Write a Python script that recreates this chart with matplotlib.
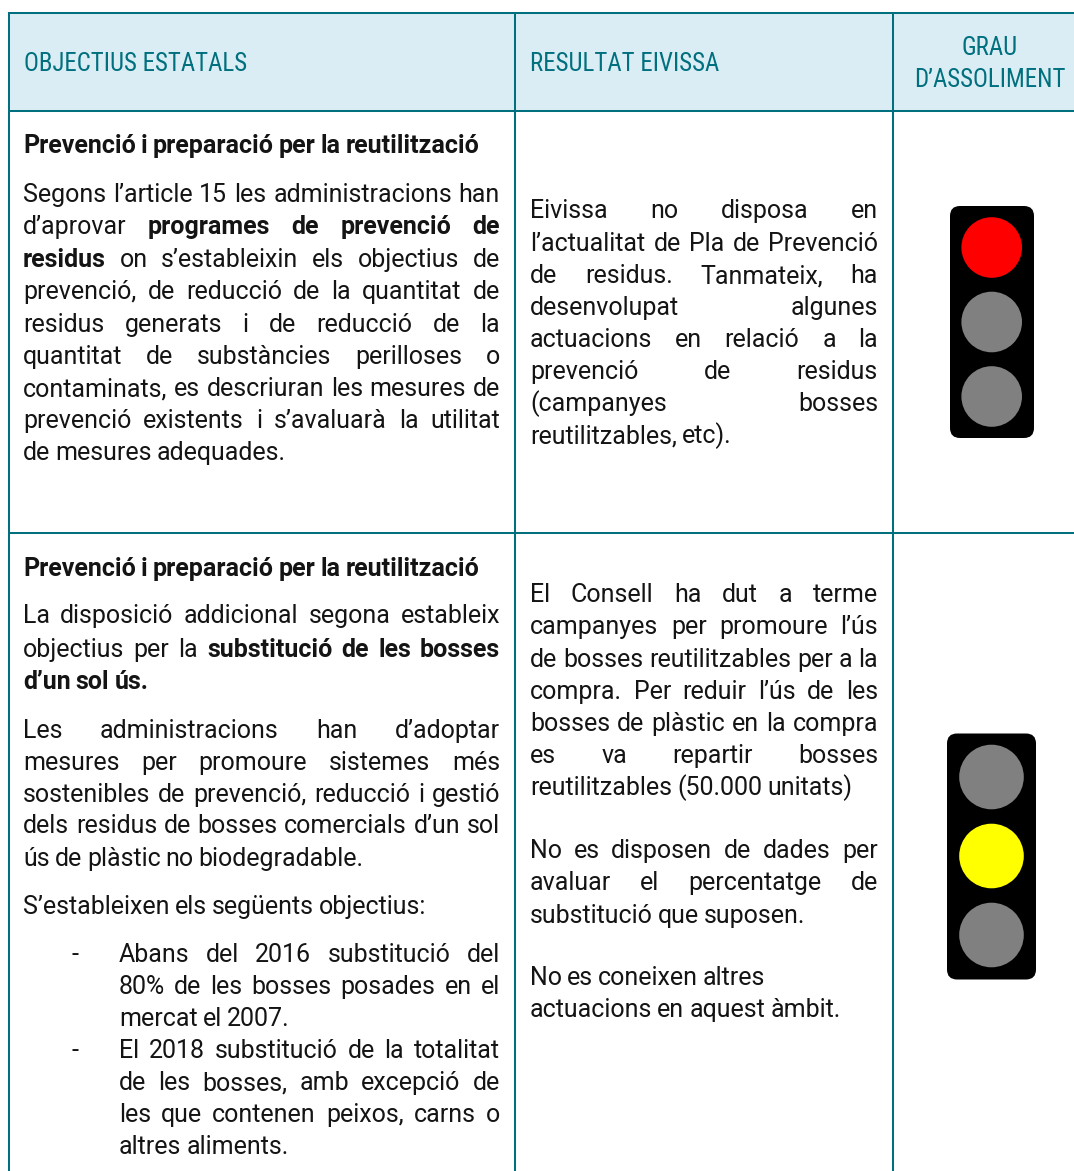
import matplotlib
matplotlib.use("Agg")
import matplotlib.pyplot as plt
from matplotlib import font_manager as fm
from matplotlib.patches import Rectangle, FancyBboxPatch, Circle

# ---------- content ----------
HEADERS = ["OBJECTIUS ESTATALS", "RESULTAT EIVISSA", "GRAU", "D’ASSOLIMENT"]

# "*" toggles bold at the start / end of a word; trailing "|" = left aligned line
R1_OBJ = [
    "*Prevenció i preparació per la reutilització*|",
    "Segons l’article 15 les administracions han",
    "d’aprovar *programes de prevenció de*",
    "*residus* on s’estableixin els objectius de",
    "prevenció, de reducció de la quantitat de",
    "residus generats i de reducció de la",
    "quantitat de substàncies perilloses o",
    "contaminats, es descriuran les mesures de",
    "prevenció existents i s’avaluarà la utilitat",
    "de mesures adequades.|",
]
R1_RES = [
    "Eivissa no disposa en",
    "l’actualitat de Pla de Prevenció",
    "de residus. Tanmateix, ha",
    "desenvolupat algunes",
    "actuacions en relació a la",
    "prevenció de residus",
    "(campanyes bosses",
    "reutilitzables, etc).|",
]
R2_OBJ = [
    "*Prevenció i preparació per la reutilització*|",
    "La disposició addicional segona estableix",
    "objectius per la *substitució de les bosses*",
    "*d’un sol ús.*|",
    "Les administracions han d’adoptar",
    "mesures per promoure sistemes més",
    "sostenibles de prevenció, reducció i gestió",
    "dels residus de bosses comercials d’un sol",
    "ús de plàstic no biodegradable.|",
    "S’estableixen els següents objectius:|",
]
R2_BUL = [
    "Abans del 2016 substitució del",
    "80% de les bosses posades en el",
    "mercat el 2007.|",
    "El 2018 substitució de la totalitat",
    "de les bosses, amb excepció de",
    "les que contenen peixos, carns o",
    "altres aliments.|",
]
R2_RES = [
    "El Consell ha dut a terme",
    "campanyes per promoure l’ús",
    "de bosses reutilitzables per a la",
    "compra. Per reduir l’ús de les",
    "bosses de plàstic en la compra",
    "es va repartir bosses",
    "reutilitzables (50.000 unitats)|",
    "No es disposen de dades per",
    "avaluar el percentatge de",
    "substitució que suposen.|",
    "No es coneixen altres|",
    "actuacions en aquest àmbit.|",
]
LIGHT_STATES = [("red", "off", "off"), ("off", "yellow", "off")]

# ---------- layout ----------
W, H = 1074, 1171
TEAL = "#006F7E"
HEAD_BG = "#DAEDF4"
INK = "#141414"
LAMP = {"red": "#FF0000", "yellow": "#FFFF00", "off": "#808080"}
FONT = "Roboto"
SIZE = 18.0
NAT_GAP = 5.0

Y_R1_OBJ = [153, 201.7, 234.3, 267, 299.3, 331.7, 364, 396, 428.3, 460]
Y_R1_RES = [218, 251, 283.3, 315, 346.7, 379, 410.7, 443.3]
Y_R2_OBJ = [576, 623.3, 656.7, 689, 738.3, 770, 801.7, 833.3, 865.7, 914]
Y_R2_BUL = [961.7, 994, 1026, 1058.3, 1090, 1122.3, 1154]
Y_R2_RES = [602.3, 634.3, 666.7, 699, 730.7, 762.7, 795, 858.3, 890, 922.7, 985, 1016.7]

fig = plt.figure(figsize=(W / 100, H / 100), dpi=100, facecolor="white")
ax = fig.add_axes([0, 0, 1, 1])
ax.set_xlim(0, W)
ax.set_ylim(H, 0)
ax.axis("off")
renderer = fig.canvas.get_renderer()

# header band + rules
ax.add_patch(Rectangle((8.7, 13), W - 8.7, 97.7, fc=HEAD_BG, ec="none", zorder=0))
LW = 1.45
for x in (8.7, 515, 893):
    ax.plot([x, x], [12.3, H], color=TEAL, lw=LW, solid_capstyle="butt", zorder=3)
for y in (13, 110.7, 533):
    ax.plot([8, W], [y, y], color=TEAL, lw=LW, solid_capstyle="butt", zorder=3)

# header text: narrowest available family, sized so the first label spans its width
hfam = "Roboto"
for cand in ("Liberation Sans Narrow", "Roboto Condensed", "Noto Sans Condensed"):
    try:
        fm.findfont(cand, fallback_to_default=False)
        hfam = cand
        break
    except ValueError:
        pass
probe = ax.text(0, 0, HEADERS[0], family=hfam, fontsize=18)
hsize = 18 * 223 / probe.get_window_extent(renderer).width
probe.remove()
ax.text(24, 71, HEADERS[0], family=hfam, fontsize=hsize, color=TEAL, va="baseline")
ax.text(530, 71, HEADERS[1], family=hfam, fontsize=hsize, color=TEAL, va="baseline")
ax.text(989.5, 55, HEADERS[2], family=hfam, fontsize=hsize, color=TEAL, va="baseline", ha="center")
ax.text(989.5, 87, HEADERS[3], family=hfam, fontsize=hsize, color=TEAL, va="baseline", ha="center")


def draw_line(line, left, right, base):
    natural = line.endswith("|")
    line = line.rstrip("|")
    bold = False
    items = []
    for raw in line.split(" "):
        w = raw
        if w.startswith("*"):
            bold = True
            w = w[1:]
        this_bold = bold
        if w.endswith("*"):
            bold = False
            w = w[:-1]
        t = ax.text(0, base, w, family=FONT, fontsize=SIZE, color=INK, va="baseline",
                    fontweight="bold" if this_bold else "normal")
        adv = t.get_window_extent(renderer).width
        items.append((t, adv))
    total = sum(a for _, a in items)
    if natural or len(items) == 1:
        gap = NAT_GAP
    else:
        gap = (right - left - total) / (len(items) - 1)
    x = left
    for t, adv in items:
        t.set_x(x)
        x += adv + gap


def block(lines, ys, left, right):
    for ln, y in zip(lines, ys):
        draw_line(ln, left, right, y)


block(R1_OBJ, Y_R1_OBJ, 23, 500)
block(R1_RES, Y_R1_RES, 530, 878)
block(R2_OBJ, Y_R2_OBJ, 23, 500)
block(R2_BUL, Y_R2_BUL, 119, 500)
block(R2_RES, Y_R2_RES, 530, 878)
for y in (Y_R2_BUL[0], Y_R2_BUL[3]):
    ax.text(72, y, "-", family=FONT, fontsize=SIZE, color=INK, va="baseline", ha="left")


def traffic_light(states, x0, x1, y0, y1, cx, cys, r):
    pad = 10
    ax.add_patch(FancyBboxPatch((x0 + pad, y0 + pad), x1 - x0 - 2 * pad, y1 - y0 - 2 * pad,
                                boxstyle=f"round,pad={pad},rounding_size={pad}",
                                fc="black", ec="none", zorder=2, mutation_aspect=1))
    for s, cy in zip(states, cys):
        ax.add_patch(Circle((cx, cy), r, fc=LAMP[s], ec="none", zorder=4))


traffic_light(LIGHT_STATES[0], 950, 1034, 206, 438, 991.7, (247.5, 322, 396.5), 30.3)
traffic_light(LIGHT_STATES[1], 947, 1036, 733.5, 979.5, 991.5, (777, 856, 935), 32.3)

fig.savefig("out.png", dpi=100, facecolor="white")
